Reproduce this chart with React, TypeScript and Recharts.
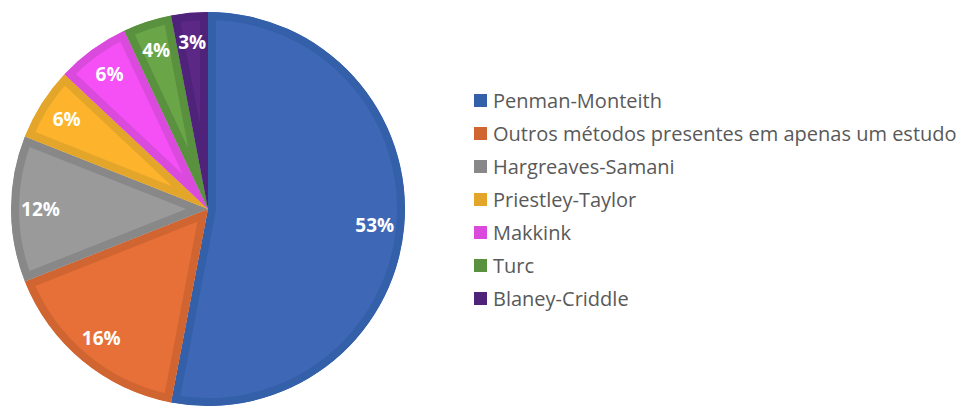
import React from 'react';
import { PieChart, Pie, Cell, Sector, Legend } from 'recharts';

const categories = [
  'Penman-Monteith',
  'Outros métodos presentes em apenas um estudo',
  'Hargreaves-Samani',
  'Priestley-Taylor',
  'Makkink',
  'Turc',
  'Blaney-Criddle',
];
const values = [53, 16, 12, 6, 6, 4, 3];

const fills = ['#3E68B6', '#E67038', '#9A9A9A', '#FDB42C', '#F450F5', '#6AA648', '#5B2886'];
const borders = ['#345FA9', '#D06531', '#888888', '#E4A62A', '#DA4BDD', '#5A913F', '#50237A'];

const data = categories.map((name, i) => ({ name, value: values[i] }));

const RAD = Math.PI / 180;

const renderSlice = (props: any) => {
  const { cx, cy, innerRadius, outerRadius, startAngle, endAngle, index } = props;
  const id = `slice-clip-${index}`;
  const geo = { cx, cy, innerRadius, outerRadius, startAngle, endAngle };
  return (
    <g>
      <defs>
        <clipPath id={id}>
          <Sector {...geo} />
        </clipPath>
      </defs>
      <g clipPath={`url(#${id})`}>
        <Sector {...geo} fill={fills[index]} stroke={borders[index]} strokeWidth={16} strokeLinejoin="miter" />
      </g>
    </g>
  );
};

const renderLabel = (props: any) => {
  const { cx, cy, midAngle, outerRadius, value } = props;
  const r = outerRadius * 0.85;
  const x = cx + r * Math.cos(-midAngle * RAD);
  const y = cy + r * Math.sin(-midAngle * RAD);
  return (
    <text
      x={x}
      y={y}
      fill="#FFFFFF"
      textAnchor="middle"
      dominantBaseline="central"
      fontFamily="'Open Sans', sans-serif"
      fontWeight={700}
      fontSize={19}
    >
      {`${value}%`}
    </text>
  );
};

const renderLegend = () => (
  <div style={{ fontFamily: "'Open Sans', sans-serif", fontSize: 20, color: '#595959' }}>
    {categories.map((name, i) => (
      <div key={name} style={{ display: 'flex', alignItems: 'center', height: 33, whiteSpace: 'nowrap' }}>
        <span
          style={{
            display: 'inline-block',
            width: 13,
            height: 13,
            background: borders[i],
            marginRight: 6,
          }}
        />
        <span>{name}</span>
      </div>
    ))}
  </div>
);

export default function App() {
  return (
    <div style={{ position: 'absolute', left: 0, top: 0, width: 961, height: 408, background: '#fff' }}>
      <PieChart width={961} height={408} margin={{ top: 0, right: 0, bottom: 0, left: 0 }}>
        <Pie
          data={data}
          dataKey="value"
          nameKey="name"
          cx={208}
          cy={209}
          outerRadius={197}
          startAngle={90}
          endAngle={-270}
          isAnimationActive={false}
          shape={renderSlice}
          label={renderLabel}
          labelLine={false}
          stroke="none"
        >
          {data.map((d, i) => (
            <Cell key={d.name} fill={fills[i]} />
          ))}
        </Pie>
        <Legend
          layout="vertical"
          align="right"
          verticalAlign="top"
          content={renderLegend}
          width={487}
          wrapperStyle={{ position: 'absolute', left: 474, top: 84, width: 487 }}
        />
      </PieChart>
    </div>
  );
}
